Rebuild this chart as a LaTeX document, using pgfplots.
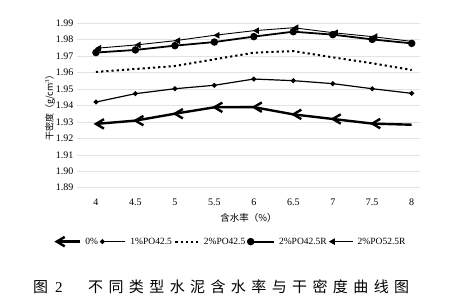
\documentclass[border=0pt]{standalone}
\usepackage{pgfplots}
\pgfplotsset{compat=1.18}
\usepackage{fontspec}
\setmainfont{Liberation Serif}
\newfontfamily\cjk{Noto Sans CJK SC}
\pgfdeclareplotmark{chev}{%
  \pgfpathmoveto{\pgfqpoint{1.7\pgfplotmarksize}{\pgfplotmarksize}}%
  \pgfpathlineto{\pgfqpoint{0pt}{0pt}}%
  \pgfpathlineto{\pgfqpoint{1.7\pgfplotmarksize}{-\pgfplotmarksize}}%
  \pgfusepathqstroke}
\pgfdeclareplotmark{ltri}{%
  \pgfpathmoveto{\pgfqpoint{0pt}{0pt}}%
  \pgfpathlineto{\pgfqpoint{1.8\pgfplotmarksize}{\pgfplotmarksize}}%
  \pgfpathlineto{\pgfqpoint{1.8\pgfplotmarksize}{-\pgfplotmarksize}}%
  \pgfpathclose\pgfusepathqfillstroke}
\begin{document}
\begin{tikzpicture}[x=1pt,y=1pt]
\path[use as bounding box] (0,0) rectangle (455,305);
\begin{axis}[
  at={(77pt,117.3pt)}, anchor=south west, scale only axis,
  width=343pt, height=164.4pt,
  xmin=3.76, xmax=8.105, ymin=1.89, ymax=1.99,
  xtick={4,4.5,5,5.5,6,6.5,7,7.5,8},
  ytick={1.89,1.90,...,1.995},
  yticklabel style={/pgf/number format/fixed, /pgf/number format/fixed zerofill, /pgf/number format/precision=2},
  /pgf/number format/assume math mode=true,
  ticklabel style={font=\fontsize{10}{11}\selectfont},
  xticklabel style={yshift=-8pt},
  major tick length=0pt,
  axis line style={draw=none},
  ymajorgrids, grid style={gray!22, line width=0.6pt},
  xlabel={\cjk 含水率（\%）},
  xlabel style={font=\fontsize{9.5}{10}\selectfont, at={(axis description cs:0.5,-0.1825)}, anchor=center},
  ylabel={\cjk 干密度（\textit{g}/\textit{cm}$^3$）},
  ylabel style={font=\fontsize{9}{10}\selectfont, yshift=-6pt},
  legend columns=5,
  legend style={at={(0.449,-0.328)}, anchor=center, draw=none, fill=none,
    font=\fontsize{9.5}{10}\selectfont,
    nodes={inner xsep=1pt},
    /tikz/every even column/.append style={column sep=1.5pt},
    /tikz/every odd column/.append style={column sep=3.5pt}},
  legend cell align=left,
  legend image code/.code={\draw[#1,mark=none] (0pt,0pt)--(23pt,0pt); \draw[#1,only marks] plot coordinates {(0pt,0pt)};},
]
\addplot[black, line width=2.4pt, mark=chev, mark size=4.7pt, mark indices={1,2,3,4,5,6,7,8}, mark options={line width=2.4pt, solid}] coordinates {
(4,1.9288) (4.5,1.9308) (5,1.9350) (5.5,1.9389) (6,1.9390) (6.5,1.9346) (7,1.9318) (7.5,1.9290) (8,1.9283)};
\addlegendentry{0\%}
\addplot[black, line width=1.2pt, mark=*, mark size=1.8pt] coordinates {
(4,1.9421) (4.5,1.9472) (5,1.9502) (5.5,1.9523) (6,1.9561) (6.5,1.9551) (7,1.9533) (7.5,1.9502) (8,1.9474)};
\addlegendentry{1\%PO42.5}
\addplot[black, line width=2pt, dash pattern=on 2.2pt off 3pt] coordinates {
(4,1.9604) (4.5,1.9622) (5,1.9640) (5.5,1.9681) (6,1.9721) (6.5,1.9731) (7,1.9693) (7.5,1.9657) (8,1.9616)};
\addlegendentry{2\%PO42.5}
\addplot[black, line width=1.8pt, mark=*, mark size=2.8pt, mark options={solid}] coordinates {
(4,1.9722) (4.5,1.9738) (5,1.9764) (5.5,1.9786) (6,1.9819) (6.5,1.9849) (7,1.9831) (7.5,1.9802) (8,1.9778)};
\addlegendentry{2\%PO42.5R}
\addplot[black, line width=0.9pt, mark=ltri, mark size=2.6pt, mark indices={1,2,3,4,5,6,7,8}, mark options={solid}] coordinates {
(4,1.9748) (4.5,1.9768) (5,1.9794) (5.5,1.9827) (6,1.9855) (6.5,1.9873) (7,1.9843) (7.5,1.9819) (8,1.9790)};
\addlegendentry{2\%PO52.5R}
\end{axis}
\node[anchor=west, inner sep=0pt, font=\fontsize{15}{15}\selectfont] at (33,18.3) {\cjk 图\hspace{7pt}\rmfamily 2};
\node[anchor=west, inner sep=0pt, font=\fontsize{15}{15}\selectfont\cjk] at (88,18.3) {%
\makebox[20.4pt][l]{不}\makebox[20.4pt][l]{同}\makebox[20.4pt][l]{类}\makebox[20.4pt][l]{型}%
\makebox[20.4pt][l]{水}\makebox[20.4pt][l]{泥}\makebox[20.4pt][l]{含}\makebox[20.4pt][l]{水}%
\makebox[20.4pt][l]{率}\makebox[20.4pt][l]{与}\makebox[20.4pt][l]{干}\makebox[20.4pt][l]{密}%
\makebox[20.4pt][l]{度}\makebox[20.4pt][l]{曲}\makebox[20.4pt][l]{线}\makebox[15pt][l]{图}};
\end{tikzpicture}
\end{document}
